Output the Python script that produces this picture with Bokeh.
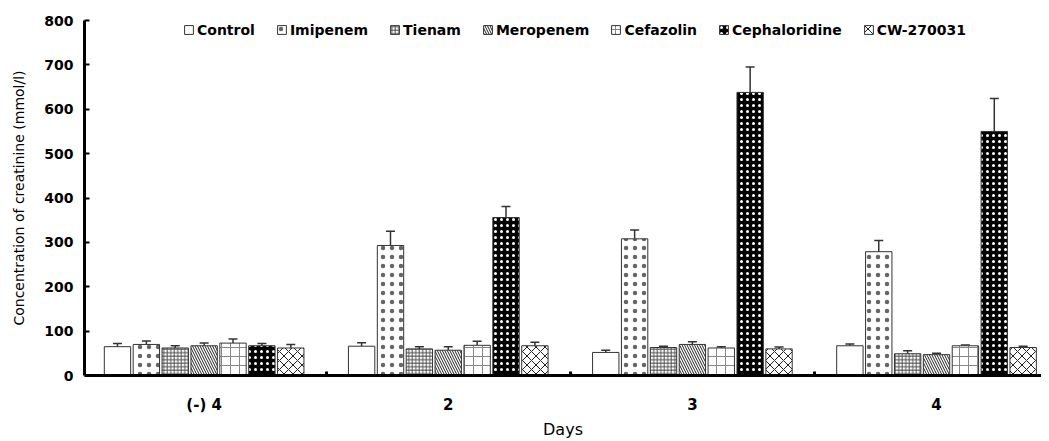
from bokeh.plotting import figure
from bokeh.models import (ColumnDataSource, Range1d, FixedTicker, Whisker, TeeHead,
                          Legend, LegendItem)
from bokeh.transform import dodge
from bokeh.embed import file_html
from bokeh.resources import INLINE

days = ["(-) 4", "2", "3", "4"]
day_index = [0, 1, 2, 3]
drugs = ["Control", "Imipenem", "Tienam", "Meropenem", "Cefazolin", "Cephaloridine", "CW-270031"]

control = [65, 66, 52, 67]
control_err = [7, 8, 5, 4]
imipenem = [70, 293, 308, 279]
imipenem_err = [8, 32, 20, 25]
tienam = [62, 60, 63, 49]
tienam_err = [5, 5, 3, 7]
meropenem = [67, 57, 70, 47]
meropenem_err = [6, 8, 6, 3]
cefazolin = [73, 68, 62, 67]
cefazolin_err = [9, 9, 3, 2]
cephaloridine = [67, 356, 638, 550]
cephaloridine_err = [5, 25, 57, 74]
cw270031 = [62, 67, 60, 63]
cw270031_err = [8, 8, 4, 3]

y_ticks = [0, 100, 200, 300, 400, 500, 600, 700, 800]

series = [control, imipenem, tienam, meropenem, cefazolin, cephaloridine, cw270031]
errors = [control_err, imipenem_err, tienam_err, meropenem_err, cefazolin_err,
          cephaloridine_err, cw270031_err]

styles = [
    dict(fill_color="white", hatch_pattern=None),
    dict(fill_color="white", hatch_pattern="dot", hatch_color="#666666", hatch_scale=9, hatch_weight=0.8),
    dict(fill_color="white", hatch_pattern="+", hatch_color="#555555", hatch_scale=3.5, hatch_weight=1),
    dict(fill_color="white", hatch_pattern="\\", hatch_color="#222222", hatch_scale=5, hatch_weight=1),
    dict(fill_color="white", hatch_pattern="+", hatch_color="#888888", hatch_scale=9, hatch_weight=1),
    dict(fill_color="black", hatch_pattern="dot", hatch_color="white", hatch_scale=6, hatch_weight=4),
    dict(fill_color="white", hatch_pattern="x", hatch_color="#222222", hatch_scale=9, hatch_weight=1),
]

p = figure(width=1041, height=441, output_backend="svg", toolbar_location=None,
           x_range=Range1d(-0.49, 3.43), y_range=Range1d(0, 800),
           min_border_left=84, min_border_right=0, min_border_top=20, min_border_bottom=63)
p.outline_line_color = None
p.xgrid.visible = False
p.ygrid.visible = False

slot = 0.1183
width = 0.108
items = []
for i, (name, vals, errs, st) in enumerate(zip(drugs, series, errors, styles)):
    src = ColumnDataSource(dict(x=day_index, top=vals, upper=[v + e for v, e in zip(vals, errs)]))
    off = (i - 3) * slot
    kw = dict(st)
    hp = kw.pop("hatch_pattern")
    if hp is not None:
        kw["hatch_pattern"] = hp
    w = Whisker(base=dodge("x", off), upper="upper", lower="top", source=src,
                dimension="height", line_color="#333333", line_width=1.5,
                upper_head=TeeHead(size=9, line_color="#333333", line_width=1.5),
                lower_head=None)
    p.add_layout(w)
    r = p.vbar(x=dodge("x", off), top="top", width=width, source=src,
               line_color="#333333", line_width=1, **kw)
    items.append(LegendItem(label=name, renderers=[r]))

legend = Legend(items=items, orientation="horizontal", location=(99, 337),
                glyph_width=11, glyph_height=11, label_height=17, label_standoff=3, spacing=21,
                padding=0, margin=0, border_line_color=None, background_fill_alpha=0,
                label_text_font="DejaVu Sans", label_text_font_style="bold",
                label_text_font_size="14px", label_text_color="black")
p.add_layout(legend)

# axes
p.xaxis.ticker = FixedTicker(ticks=day_index, minor_ticks=[0.5, 1.5, 2.5])
p.xaxis.major_label_overrides = {i: d for i, d in zip(day_index, days)}
p.xaxis.major_tick_line_color = None
p.xaxis.minor_tick_in = 4
p.xaxis.minor_tick_out = 0
p.xaxis.minor_tick_line_width = 3
p.xaxis.axis_line_width = 3
p.xaxis.major_label_text_font = "DejaVu Sans"
p.xaxis.major_label_text_font_style = "bold"
p.xaxis.major_label_text_font_size = "15px"
p.xaxis.major_label_text_color = "black"
p.xaxis.major_label_standoff = 14
p.xaxis.axis_label = "Days"
p.xaxis.axis_label_text_font = "DejaVu Sans"
p.xaxis.axis_label_text_font_style = "normal"
p.xaxis.axis_label_text_font_size = "16px"
p.xaxis.axis_label_text_color = "black"
p.xaxis.axis_label_standoff = 3

p.yaxis.ticker = FixedTicker(ticks=y_ticks, minor_ticks=[])
p.yaxis.major_tick_in = 5
p.yaxis.major_tick_out = 0
p.yaxis.major_tick_line_width = 2
p.yaxis.axis_line_width = 3
p.yaxis.major_label_text_font = "DejaVu Sans"
p.yaxis.major_label_text_font_style = "bold"
p.yaxis.major_label_text_font_size = "14px"
p.yaxis.major_label_text_color = "black"
p.yaxis.major_label_standoff = 11
p.yaxis.axis_label = "Concentration of creatinine (mmol/l)"
p.yaxis.axis_label_text_font = "DejaVu Sans"
p.yaxis.axis_label_text_font_style = "normal"
p.yaxis.axis_label_text_font_size = "14px"
p.yaxis.axis_label_text_color = "black"
p.yaxis.axis_label_standoff = 14

open("out.html", "w").write(file_html(p, INLINE))
